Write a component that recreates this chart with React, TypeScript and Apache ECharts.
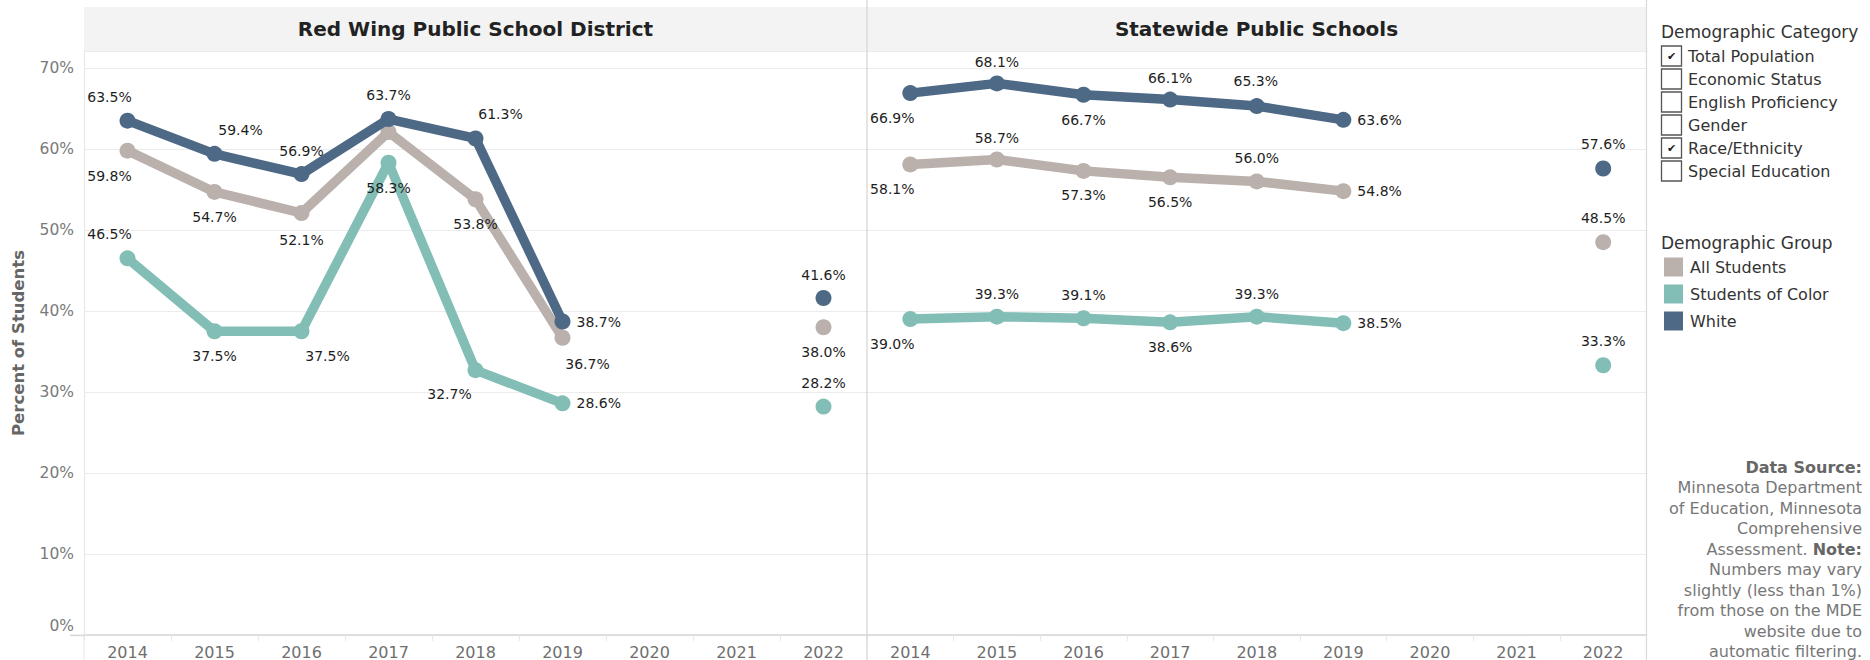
import React, { useEffect, useRef } from 'react';
import * as echarts from 'echarts';

const YEARS = ['2014', '2015', '2016', '2017', '2018', '2019', '2020', '2021', '2022'];
const PANEL_TITLES = ['Red Wing Public School District', 'Statewide Public Schools'];
const GROUPS = ['All Students', 'Students of Color', 'White'];
const CATEGORIES = ['Total Population', 'Economic Status', 'English Proficiency', 'Gender', 'Race/Ethnicity', 'Special Education'];
const CATEGORY_CHECKED = [true, false, false, false, true, false];
const Y_AXIS_NAME = 'Percent of Students';

// Red Wing Public School District
const RW_ALL = [59.8, 54.7, 52.1, 62.1, 53.8, 36.7, null, null, 38.0];
const RW_SOC = [46.5, 37.5, 37.5, 58.3, 32.7, 28.6, null, null, 28.2];
const RW_WHITE = [63.5, 59.4, 56.9, 63.7, 61.3, 38.7, null, null, 41.6];
// Statewide Public Schools
const ST_ALL = [58.1, 58.7, 57.3, 56.5, 56.0, 54.8, null, null, 48.5];
const ST_SOC = [39.0, 39.3, 39.1, 38.6, 39.3, 38.5, null, null, 33.3];
const ST_WHITE = [66.9, 68.1, 66.7, 66.1, 65.3, 63.6, null, null, 57.6];

// label placement (style only): [dx, dy] offset from point centre, 'R' = right, null = hidden
const RW_ALL_LBL: any[] = [[-18, 25], [0, 25], [0, 27], null, [0, 25], [25, 26], null, null, [0, 25]];
const RW_SOC_LBL: any[] = [[-18, -24], [0, 25], [26, 25], [0, 25], [-26, 24], 'R', null, null, [0, -24]];
const RW_WHITE_LBL: any[] = [[-18, -24], [26, -24], [0, -23], [0, -24], [25, -24], 'R', null, null, [0, -23]];
const ST_ALL_LBL: any[] = [[-18, 25], [0, -22], [0, 24], [0, 25], [0, -23], 'R', null, null, [0, -24]];
const ST_SOC_LBL: any[] = [[-18, 25], [0, -23], [0, -23], [0, 25], [0, -23], 'R', null, null, [0, -24]];
const ST_WHITE_LBL: any[] = [[-18, 25], [0, -21], [0, 25], [0, -22], [-1, -25], 'R', null, null, [0, -24]];

const COLORS = ['#bab0ac', '#82beb5', '#4e6985'];
const FONT = 'DejaVu Sans';

function buildData(values: (number | null)[], lbl: any[]) {
  return values.map((v, i) => {
    if (v == null) return null;
    const p = lbl[i];
    let label: any;
    if (p == null) label = { show: false };
    else if (p === 'R') label = { show: true, position: 'right', distance: 6, align: 'left', verticalAlign: 'middle' };
    else label = { show: true, position: 'inside', offset: p, align: 'center', verticalAlign: 'middle' };
    return { value: v, label };
  });
}

function lineSeries(name: string, values: (number | null)[], lbl: any[], color: string, gi: number, z: number) {
  return {
    type: 'line',
    name,
    xAxisIndex: gi,
    yAxisIndex: gi,
    data: buildData(values, lbl),
    symbol: 'circle',
    symbolSize: 16,
    showSymbol: true,
    showAllSymbol: true,
    connectNulls: false,
    z,
    lineStyle: { width: 9.5, color, cap: 'round', join: 'round' },
    itemStyle: { color },
    emphasis: { disabled: true },
    label: {
      show: true,
      color: '#1e1e1e',
      fontFamily: FONT,
      fontSize: 14,
      formatter: (p: any) => Number(p.value).toFixed(1) + '%',
    },
  };
}

export default function App() {
  const ref = useRef<HTMLDivElement>(null);
  useEffect(() => {
    if (!ref.current) return;
    const chart = echarts.init(ref.current, null, { renderer: 'svg' });

    const gridTop = 51;
    const gridH = 584.4;
    const yMax = 72.1;

    const xAxisBase = (gi: number) => ({
      type: 'category',
      gridIndex: gi,
      data: YEARS,
      boundaryGap: true,
      axisLine: { show: true, lineStyle: { color: '#d6d6d6', width: 1.5 } },
      axisTick: { show: true, alignWithLabel: false, length: 6, lineStyle: { color: '#e8e8e8' } },
      axisLabel: { color: '#6f6f6f', fontFamily: FONT, fontSize: 16, margin: 9 },
      splitLine: { show: false },
    });

    const yAxisBase = (gi: number) => ({
      type: 'value',
      gridIndex: gi,
      min: 0,
      max: yMax,
      interval: 10,
      axisLine: { show: gi === 0, lineStyle: { color: '#e6e6e6' } },
      axisTick: { show: false },
      splitLine: { show: true, lineStyle: { color: '#ececec', width: 1 } },
      axisLabel: {
        show: gi === 0,
        color: '#7a7a7a',
        fontFamily: FONT,
        fontSize: 15.5,
        margin: 10,
        formatter: (v: number) => (Math.abs(v % 10) < 1e-6 ? (v === 0 ? '{z|0%}' : v + '%') : ''),
        rich: { z: { color: '#7a7a7a', fontFamily: FONT, fontSize: 15.5, padding: [0, 0, 18, 0] } },
      },
      name: gi === 0 ? Y_AXIS_NAME : '',
      nameLocation: 'middle',
      nameGap: 57,
      nameTextStyle: { color: '#666', fontFamily: FONT, fontSize: 16.5, fontWeight: 'bold' },
    });

    const graphic: any[] = [];
    // header band
    graphic.push({ type: 'rect', shape: { x: 84, y: 7, width: 1562, height: 44 }, style: { fill: '#f3f3f3' }, z: 0 });
    graphic.push({ type: 'text', x: 475.5, y: 29, style: { text: PANEL_TITLES[0], font: `bold 20px "${FONT}"`, fill: '#222', align: 'center', verticalAlign: 'middle' }, z: 5 });
    graphic.push({ type: 'text', x: 1256.5, y: 29, style: { text: PANEL_TITLES[1], font: `bold 20px "${FONT}"`, fill: '#222', align: 'center', verticalAlign: 'middle' }, z: 5 });
    // dividers
    graphic.push({ type: 'line', shape: { x1: 867, y1: 0, x2: 867, y2: 660 }, style: { stroke: '#d4d4d4', lineWidth: 1.2 }, z: 5 });
    graphic.push({ type: 'line', shape: { x1: 1646.5, y1: 0, x2: 1646.5, y2: 660 }, style: { stroke: '#d9d9d9', lineWidth: 1.2 }, z: 5 });
    graphic.push({ type: 'line', shape: { x1: 84, y1: 635, x2: 84, y2: 660 }, style: { stroke: '#e6e6e6', lineWidth: 1 }, z: 5 });
    graphic.push({ type: 'line', shape: { x1: 70, y1: 635.4, x2: 84, y2: 635.4 }, style: { stroke: '#d6d6d6', lineWidth: 1.5 }, z: 5 });

    // legend: Demographic Category
    graphic.push({ type: 'text', x: 1661, y: 32, style: { text: 'Demographic Category', font: `17px "${FONT}"`, fill: '#333', align: 'left', verticalAlign: 'middle' } });
    CATEGORIES.forEach((c, i) => {
      const top = 46 + i * 23;
      graphic.push({ type: 'rect', shape: { x: 1661.5, y: top, width: 20, height: 20 }, style: { fill: '#fff', stroke: '#555', lineWidth: 1.3 } });
      if (CATEGORY_CHECKED[i]) {
        graphic.push({ type: 'text', x: 1671.5, y: top + 10.5, style: { text: '✔', font: `11px "${FONT}"`, fill: '#222', align: 'center', verticalAlign: 'middle' } });
      }
      graphic.push({ type: 'text', x: 1688, y: top + 10, style: { text: c, font: `16px "${FONT}"`, fill: '#333', align: 'left', verticalAlign: 'middle' } });
    });

    // legend: Demographic Group
    graphic.push({ type: 'text', x: 1661, y: 243, style: { text: 'Demographic Group', font: `17px "${FONT}"`, fill: '#333', align: 'left', verticalAlign: 'middle' } });
    GROUPS.forEach((g, i) => {
      const cy = 267 + i * 27;
      graphic.push({ type: 'rect', shape: { x: 1664, y: cy - 9.5, width: 19, height: 19 }, style: { fill: COLORS[i] } });
      graphic.push({ type: 'text', x: 1690, y: cy, style: { text: g, font: `16px "${FONT}"`, fill: '#333', align: 'left', verticalAlign: 'middle' } });
    });

    // data source note
    const noteLines = [
      '{b|Data Source:}',
      '{n|Minnesota Department}',
      '{n|of Education, Minnesota}',
      '{n|Comprehensive}',
      '{n|Assessment. }{b|Note:}',
      '{n|Numbers may vary}',
      '{n|slightly (less than 1%)}',
      '{n|from those on the MDE}',
      '{n|website due to}',
      '{n|automatic filtering.}',
    ];
    noteLines.forEach((t, i) => {
      graphic.push({
        type: 'text',
        x: 1862,
        y: 467 + i * 20.5,
        style: {
          text: t,
          align: 'right',
          verticalAlign: 'middle',
          rich: {
            n: { fontFamily: FONT, fontSize: 16, fill: '#777', color: '#777' },
            b: { fontFamily: FONT, fontSize: 16, fontWeight: 'bold', fill: '#666', color: '#666' },
          },
        },
      });
    });

    chart.setOption({
      animation: false,
      backgroundColor: '#fff',
      textStyle: { fontFamily: FONT },
      grid: [
        { left: 84, top: gridTop, width: 783, height: gridH, containLabel: false },
        { left: 867, top: gridTop, width: 779.5, height: gridH, containLabel: false },
      ],
      xAxis: [xAxisBase(0), xAxisBase(1)],
      yAxis: [yAxisBase(0), yAxisBase(1)],
      graphic,
      series: [
        lineSeries('All Students', RW_ALL, RW_ALL_LBL, COLORS[0], 0, 2),
        lineSeries('Students of Color', RW_SOC, RW_SOC_LBL, COLORS[1], 0, 3),
        lineSeries('White', RW_WHITE, RW_WHITE_LBL, COLORS[2], 0, 4),
        lineSeries('All Students', ST_ALL, ST_ALL_LBL, COLORS[0], 1, 2),
        lineSeries('Students of Color', ST_SOC, ST_SOC_LBL, COLORS[1], 1, 3),
        lineSeries('White', ST_WHITE, ST_WHITE_LBL, COLORS[2], 1, 4),
      ],
    });
    return () => chart.dispose();
  }, []);
  return <div ref={ref} style={{ position: 'fixed', left: 0, top: 0, width: 1870, height: 660, background: '#fff' }} />;
}
